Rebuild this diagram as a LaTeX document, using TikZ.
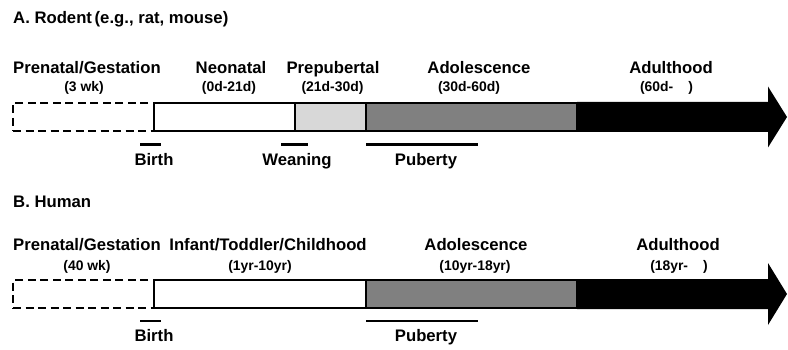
\documentclass[tikz,border=0pt]{standalone}
\usepackage{fontspec}
\setmainfont{Liberation Sans}
\definecolor{ltgray}{RGB}{216,216,216}
\definecolor{mdgray}{RGB}{128,128,128}
\begin{document}
\begin{tikzpicture}[x=1pt,y=-1pt,
  lab/.style={font=\fontsize{16.7}{20}\selectfont\bfseries, inner sep=0, anchor=base},
  sub/.style={font=\fontsize{13.9}{16}\selectfont\bfseries, inner sep=0, anchor=base},
  ttl/.style={font=\fontsize{16.7}{20}\selectfont\bfseries, inner sep=0, anchor=base west},
  seg/.style={draw=black, line width=2pt, rectangle, inner sep=0, outer sep=0, anchor=north west, minimum height=28pt},
  tickline/.style={line width=2.6pt}]
\useasboundingbox (0,0) rectangle (788,350);

% ---------- Panel A ----------
\node[ttl] (tA) at (13,24) {A. Rodent\hspace{-2pt} (e.g., rat, mouse)};

\fill[black] (577,102) -- (768,102) -- (768,86.5) -- (787,117) -- (768,147.5) -- (768,132) -- (577,132) -- cycle;
\node[seg, dashed, dash pattern=on 8pt off 4.5pt, minimum width=141pt] (aPre) at (13,103) {};
\node[seg, fill=white, minimum width=141pt] (aNeo) at (154,103) {};
\node[seg, fill=ltgray, minimum width=71pt] (aPrep) at (295,103) {};
\node[seg, fill=mdgray, minimum width=211pt] (aAdo) at (366,103) {};

\node[lab] (aL1) at (87,74) {Prenatal/Gestation};
\node[sub] (aS1) at (84,92) {(3 wk)};
\node[lab] (aL2) at (231,74) {Neonatal};
\node[sub] (aS2) at (229,92) {(0d-21d)};
\node[lab] (aL3) at (333,74) {Prepubertal};
\node[sub] (aS3) at (332.5,92) {(21d-30d)};
\node[lab] (aL4) at (479,74) {Adolescence};
\node[sub] (aS4) at (469,92) {(30d-60d)};
\node[lab] (aL5) at (671,74) {Adulthood};
\node[sub] (aS5) at (666.5,92) {(60d-\hspace{15pt})};

\draw[tickline] (140,144.5) -- (161,144.5);
\draw[tickline] (281,144.5) -- (308,144.5);
\draw[tickline] (366,144.5) -- (478,144.5);
\node[lab] (aBirth) at (154,165.5) {Birth};
\node[lab] (aWean) at (297,165.5) {Weaning};
\node[lab] (aPub) at (426,165.5) {Puberty};

% ---------- Panel B ----------
\node[ttl] (tB) at (13,207.5) {B. Human};

\fill[black] (577,279) -- (768,279) -- (768,263) -- (787,294) -- (768,325) -- (768,309) -- (577,309) -- cycle;
\node[seg, dashed, dash pattern=on 8pt off 4.5pt, minimum width=141pt] (bPre) at (13,280) {};
\node[seg, fill=white, minimum width=212pt] (bChild) at (154,280) {};
\node[seg, fill=mdgray, minimum width=211pt] (bAdo) at (366,280) {};

\node[lab] (bL1) at (87,251) {Prenatal/Gestation};
\node[sub] (bS1) at (87,270.5) {(40 wk)};
\node[lab] (bL2) at (268,251) {Infant/Toddler/Childhood};
\node[sub] (bS2) at (260,270.5) {(1yr-10yr)};
\node[lab] (bL4) at (476,251) {Adolescence};
\node[sub] (bS4) at (475,270.5) {(10yr-18yr)};
\node[lab] (bL5) at (678,251) {Adulthood};
\node[sub] (bS5) at (679,270.5) {(18yr-\hspace{15pt})};

\draw[tickline] (140,321) -- (161,321);
\draw[tickline] (366,321) -- (478,321);
\node[lab] (bBirth) at (154,341.5) {Birth};
\node[lab] (bPub) at (426,341.5) {Puberty};
\end{tikzpicture}
\end{document}
